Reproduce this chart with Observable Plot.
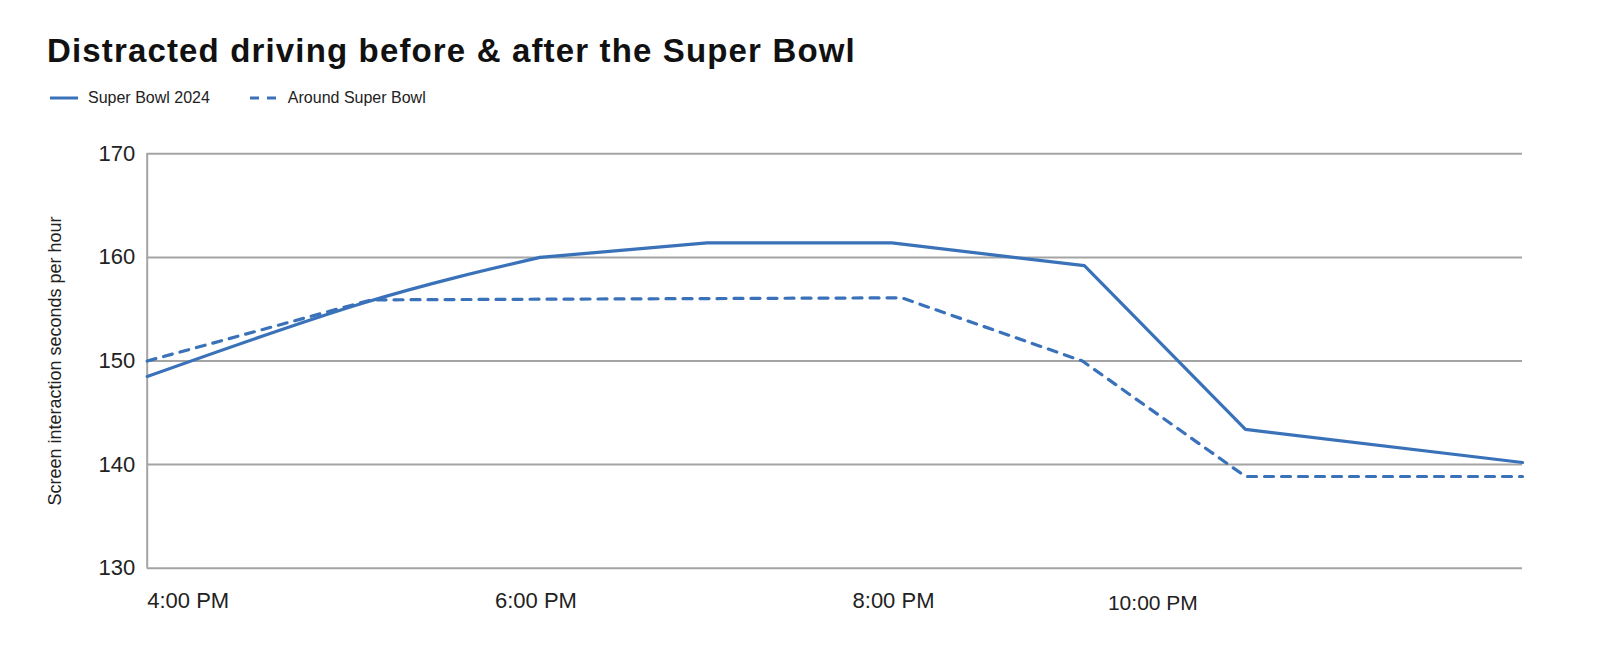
<!DOCTYPE html>
<html>
<head>
<meta charset="utf-8">
<script src="https://cdn.jsdelivr.net/npm/d3@7"></script>
<script src="https://cdn.jsdelivr.net/npm/@observablehq/plot@0.6"></script>
<style>
  html, body { margin: 0; padding: 0; background: #fff; }
  body { width: 1600px; height: 667px; overflow: hidden; font-family: "Liberation Sans", Arial, Helvetica, sans-serif; }
  #header { position: relative; height: 125px; }
  #title { position: absolute; left: 47px; top: 34px; margin: 0; font-size: 33px; line-height: 33px; font-weight: bold; color: #111; letter-spacing: 1.15px; }
  #legend { position: absolute; left: 50px; top: 89px; display: flex; align-items: center; font-size: 16px; color: #222; }
  .item { display: flex; align-items: center; margin-right: 40px; }
  .item svg { margin-right: 10px; }
</style>
</head>
<body>
<div id="header">
  <h1 id="title">Distracted driving before &amp; after the Super Bowl</h1>
  <div id="legend"></div>
</div>
<div id="chart"></div>
<script>
// ---- data ----
const seriesNames = ["Super Bowl 2024", "Around Super Bowl"];
const superBowlHours = [16, 17.1, 18.0, 18.85, 19.79, 20.77, 21.59, 23];
const superBowl2024 = [148.5, 155.6, 160.0, 161.4, 161.4, 159.2, 143.4, 140.2];
const aroundHours = [16, 17.14, 19.84, 20.76, 21.59, 23];
const aroundSuperBowl = [150.0, 155.9, 156.1, 150.0, 138.85, 138.85];
const xTickHours = [16, 17.77, 19.59];
const xTickLabels = ["4:00 PM", "6:00 PM", "8:00 PM"];
const xTickHoursLate = [20.89];
const xTickLabelsLate = ["10:00 PM"];
const yTicks = [130, 140, 150, 160, 170];
const yLabel = "Screen interaction seconds per hour";

const blue = "#3a72ba";
const grid = "#a4a4a4";

const solidRows = superBowlHours.map((h, i) => ({hour: h, value: superBowl2024[i]}));
const dashedRows = aroundHours.map((h, i) => ({hour: h, value: aroundSuperBowl[i]}));

// legend
const legend = document.getElementById("legend");
seriesNames.forEach((name, i) => {
  const item = document.createElement("div");
  item.className = "item";
  item.innerHTML = `<svg width="28" height="6"><line x1="0" y1="3" x2="28" y2="3" stroke="${blue}" stroke-width="3" ${i === 1 ? 'stroke-dasharray="9,8"' : ''}/></svg><span>${name}</span>`;
  legend.appendChild(item);
});

const fmtMain = (d) => xTickLabels[xTickHours.indexOf(d)];
const fmtLate = (d) => xTickLabelsLate[xTickHoursLate.indexOf(d)];

const chart = Plot.plot({
  width: 1600,
  height: 542,
  marginTop: 28.3,
  marginBottom: 99.3,
  marginLeft: 146.7,
  marginRight: 78,
  style: {fontFamily: '"Liberation Sans", Arial, Helvetica, sans-serif', fontSize: "22px", color: "#222", background: "#fff"},
  x: {domain: [16, 23]},
  y: {domain: [130, 170]},
  marks: [
    Plot.gridY(yTicks, {stroke: grid, strokeOpacity: 1, strokeWidth: 2}),
    Plot.ruleX([16], {stroke: grid, strokeWidth: 2}),
    Plot.axisY(yTicks, {tickSize: 0, tickPadding: 12, fontSize: 22, label: yLabel, labelAnchor: "center", labelArrow: "none", labelOffset: 99}),
    Plot.axisX(xTickHours, {tickSize: 0, tickPadding: 24, textAnchor: "start", tickFormat: fmtMain, fontSize: 22, label: null}),
    Plot.axisX(xTickHoursLate, {tickSize: 0, tickPadding: 27, textAnchor: "start", tickFormat: fmtLate, fontSize: 21, label: null}),
    Plot.line(solidRows.slice(0, 3), {x: "hour", y: "value", stroke: blue, strokeWidth: 3.2, curve: "natural"}),
    Plot.line(solidRows.slice(2), {x: "hour", y: "value", stroke: blue, strokeWidth: 3.2}),
    Plot.line(dashedRows, {x: "hour", y: "value", stroke: blue, strokeWidth: 3.2, strokeDasharray: "9,8"})
  ]
});
chart.querySelectorAll('[aria-label="y-axis label"] text, [aria-label="y-axis label"]').forEach(el => el.setAttribute("font-size", "18"));
document.getElementById("chart").appendChild(chart);
</script>
</body>
</html>
